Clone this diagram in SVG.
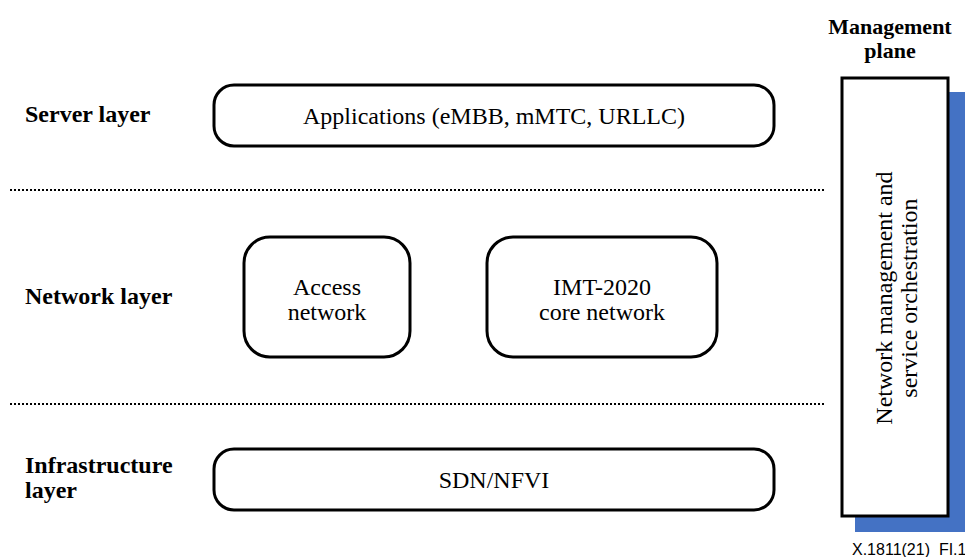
<svg xmlns="http://www.w3.org/2000/svg" width="965" height="557" viewBox="0 0 965 557">
<style>
.box{fill:#fff;stroke:#000;stroke-width:3}
.t{font-family:"Liberation Serif","Times New Roman",serif;font-size:24px;fill:#000;text-anchor:middle}
.b{font-family:"Liberation Serif","Times New Roman",serif;font-size:24px;font-weight:bold;fill:#000}
.m{font-size:22px;text-anchor:middle}
.dot{stroke:#000;stroke-width:2;stroke-dasharray:2 2}
</style>
<rect width="965" height="557" fill="#fff"/>
<g id="labels">
<text class="b" x="25" y="122">Server layer</text>
<text class="b" x="25" y="304">Network layer</text>
<text class="b" x="25" y="473">Infrastructure</text>
<text class="b" x="25" y="498">layer</text>
<text class="b m" x="890" y="34">Management</text>
<text class="b m" x="890" y="58">plane</text>
</g>
<g id="separators">
<line class="dot" x1="10" y1="190" x2="826" y2="190"/>
<line class="dot" x1="10" y1="404" x2="826" y2="404"/>
</g>
<g id="applications">
<rect class="box" x="214" y="85" width="560" height="61" rx="20"/>
<text class="t" x="494" y="124">Applications (eMBB, mMTC, URLLC)</text>
</g>
<g id="access">
<rect class="box" x="244" y="237" width="166" height="120" rx="26"/>
<text class="t" x="327" y="295">Access</text>
<text class="t" x="327" y="320">network</text>
</g>
<g id="core">
<rect class="box" x="487" y="237" width="230" height="120" rx="26"/>
<text class="t" x="602" y="295">IMT-2020</text>
<text class="t" x="602" y="320">core network</text>
</g>
<g id="sdn">
<rect class="box" x="214" y="449" width="560" height="61" rx="20"/>
<text class="t" x="494" y="488">SDN/NFVI</text>
</g>
<g id="management">
<rect x="855" y="92" width="110" height="440" fill="#4472c4"/>
<rect class="box" x="842" y="78" width="106" height="438"/>
<text class="t" transform="translate(895,298) rotate(-90)" y="-3">Network management and</text>
<text class="t" transform="translate(895,298) rotate(-90)" y="22">service orchestration</text>
</g>
<g id="connectors"></g>
<text x="852" y="555" font-family="Liberation Sans,Arial,sans-serif" font-size="16" fill="#000">X.1811(21)_FI.1</text>
</svg>
